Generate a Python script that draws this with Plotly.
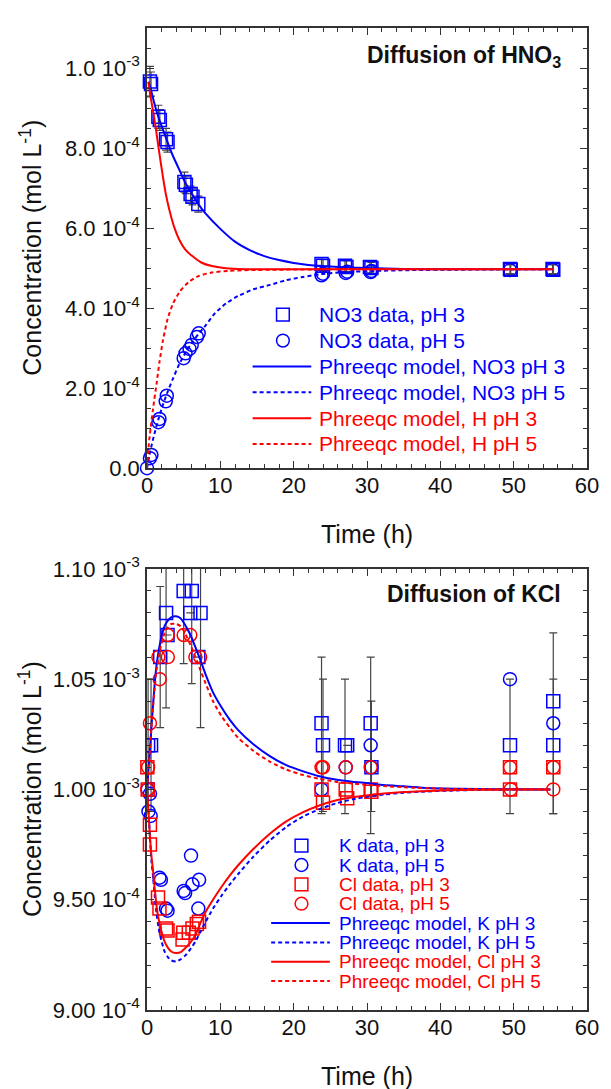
import plotly.graph_objects as go

# ---------------------------------------------------------------
# Diffusion of HNO3 (top panel) -- concentrations in mol/L
# ---------------------------------------------------------------
no3_ph3_t = [0.40, 0.55, 1.55, 1.75, 2.60, 2.80, 5.10, 5.30, 5.95, 6.20, 7.00,
             23.8, 24.0, 27.0, 27.2, 30.4, 30.6, 49.5, 49.6, 55.3, 55.4]
no3_ph3_c = [9.66e-4, 9.60e-4, 8.78e-4, 8.70e-4, 8.22e-4, 8.15e-4, 7.15e-4, 7.08e-4,
             6.85e-4, 6.78e-4, 6.60e-4, 5.10e-4, 5.06e-4, 5.06e-4, 5.03e-4, 5.03e-4,
             5.00e-4, 4.98e-4, 4.96e-4, 4.98e-4, 4.96e-4]
no3_ph3_err = [3.8e-5, 3.0e-5, 2.9e-5, 2.6e-5, 2.7e-5, 2.5e-5, 2.5e-5, 2.2e-5, 2.0e-5,
               2.0e-5, 2.0e-5, 1.6e-5, 1.5e-5, 1.5e-5, 1.5e-5, 1.5e-5, 1.4e-5,
               1.2e-5, 1.2e-5, 1.2e-5, 1.2e-5]

no3_ph5_t = [0.0, 0.40, 0.60, 1.55, 1.70, 2.55, 2.70, 5.00, 5.25, 5.80, 6.10, 6.80,
             7.05, 23.8, 24.0, 27.1, 27.3, 30.5, 30.6, 49.5, 55.3]
no3_ph5_c = [0.0, 0.25e-4, 0.33e-4, 1.15e-4, 1.23e-4, 1.67e-4, 1.81e-4, 2.75e-4,
             2.87e-4, 2.98e-4, 3.08e-4, 3.28e-4, 3.37e-4, 4.82e-4, 4.86e-4, 4.88e-4,
             4.91e-4, 4.90e-4, 4.93e-4, 4.95e-4, 4.96e-4]

# Phreeqc model curves (top panel)
m_no3_ph3_t = [0.2, 0.5, 1.0, 1.6, 2.2, 2.7, 3.5, 4.5, 5.2, 6.2, 7.0, 8.0, 10, 12,
               14, 16, 18, 20, 22, 24, 27, 30, 35, 40, 50, 55.5]
m_no3_ph3_c = [9.66e-4, 9.48e-4, 9.12e-4, 8.75e-4, 8.45e-4, 8.20e-4, 7.82e-4, 7.42e-4,
               7.14e-4, 6.83e-4, 6.60e-4, 6.36e-4, 5.98e-4, 5.66e-4, 5.45e-4, 5.30e-4,
               5.20e-4, 5.13e-4, 5.08e-4, 5.05e-4, 5.02e-4, 5.00e-4, 4.98e-4, 4.97e-4,
               4.97e-4, 4.97e-4]

m_no3_ph5_t = [0, 0.3, 0.6, 1.0, 1.6, 2.2, 2.8, 3.5, 4.4, 5.3, 6.2, 7.0, 8.0, 9.3,
               10.8, 12.4, 14.5, 16.8, 19, 21.3, 23.7, 27, 31, 36, 42, 50, 55.5]
m_no3_ph5_c = [0.0, 0.30e-4, 0.55e-4, 0.85e-4, 1.25e-4, 1.60e-4, 1.90e-4, 2.22e-4,
               2.60e-4, 2.90e-4, 3.15e-4, 3.35e-4, 3.57e-4, 3.88e-4, 4.12e-4, 4.30e-4,
               4.47e-4, 4.58e-4, 4.70e-4, 4.78e-4, 4.85e-4, 4.90e-4, 4.93e-4, 4.95e-4,
               4.96e-4, 4.97e-4, 4.97e-4]

m_h_ph3_t = [0.18, 0.5, 0.84, 1.2, 1.51, 1.85, 2.18, 2.6, 3.07, 3.7, 4.4, 5.2, 6.18,
             7.4, 8.84, 10.5, 12.4, 15, 20, 30, 40, 55.5]
m_h_ph3_c = [9.65e-4, 9.27e-4, 8.91e-4, 8.50e-4, 8.09e-4, 7.67e-4, 7.27e-4, 6.82e-4,
             6.44e-4, 6.03e-4, 5.71e-4, 5.47e-4, 5.30e-4, 5.14e-4, 5.05e-4, 5.00e-4,
             4.98e-4, 4.97e-4, 4.97e-4, 4.97e-4, 4.97e-4, 4.97e-4]

m_h_ph5_t = [0, 0.15, 0.3, 0.5, 0.8, 1.0, 1.29, 1.7, 2.18, 2.8, 3.51, 4.5, 5.73, 7.0,
             8.84, 11, 14, 18, 25, 35, 45, 55.5]
m_h_ph5_c = [0.0, 0.35e-4, 0.70e-4, 1.00e-4, 1.45e-4, 1.72e-4, 2.09e-4, 2.65e-4,
             3.20e-4, 3.72e-4, 4.10e-4, 4.42e-4, 4.66e-4, 4.80e-4, 4.89e-4, 4.93e-4,
             4.95e-4, 4.96e-4, 4.97e-4, 4.97e-4, 4.97e-4, 4.97e-4]

# ---------------------------------------------------------------
# Diffusion of KCl (bottom panel) -- concentrations in mol/L
# ---------------------------------------------------------------
k_ph3_t = [0.15, 0.55, 0.10, 1.80, 2.60, 2.80, 5.00, 6.10, 5.90, 7.30, 7.00,
           23.8, 24.0, 27.0, 27.3, 30.5, 30.6, 49.5, 55.4, 55.4]
k_ph3_c = [1.020e-3, 1.020e-3, 1.000e-3, 1.060e-3, 1.080e-3, 1.070e-3, 1.090e-3,
           1.090e-3, 1.080e-3, 1.080e-3, 1.060e-3, 1.030e-3, 1.020e-3, 1.020e-3,
           1.020e-3, 1.030e-3, 1.010e-3, 1.020e-3, 1.040e-3, 1.020e-3]
k_ph3_err_up = [3.0e-5, 3.0e-5, None, 3.2e-5, 4.3e-5, None, 3.3e-5, 4.2e-5, None,
                5.2e-5, None, 3.0e-5, 3.0e-5, 3.0e-5, None, 3.0e-5, 3.0e-5, 3.0e-5,
                3.1e-5, 3.0e-5]
k_ph3_err_dn = [3.0e-5, 3.0e-5, None, 3.2e-5, 4.3e-5, None, 3.3e-5, 4.2e-5, None,
                5.2e-5, None, 4.1e-5, 3.0e-5, 3.1e-5, None, 5.0e-5, 2.0e-5, 3.1e-5,
                5.1e-5, 3.1e-5]

k_ph5_t = [0.10, 0.40, 0.20, 0.50, 1.70, 1.90, 2.60, 2.80, 5.00, 5.20, 6.00, 6.20,
           7.00, 7.10, 23.8, 27.1, 30.5, 30.6, 49.5, 55.4]
k_ph5_c = [1.000e-3, 0.998e-3, 9.90e-4, 9.88e-4, 9.60e-4, 9.59e-4, 9.46e-4, 9.45e-4,
           9.54e-4, 9.53e-4, 9.70e-4, 9.57e-4, 9.46e-4, 9.59e-4, 1.000e-3, 1.010e-3,
           1.020e-3, 1.010e-3, 1.050e-3, 1.030e-3]

cl_ph3_t = [0.05, 0.10, 0.40, 0.40, 1.50, 1.70, 2.60, 2.80, 4.85, 4.95, 5.70, 6.20,
            6.80, 7.10, 23.8, 24.0, 27.1, 27.3, 30.5, 30.6, 49.5, 49.5, 55.4]
cl_ph3_c = [1.010e-3, 1.000e-3, 9.84e-4, 9.75e-4, 9.51e-4, 9.46e-4, 9.37e-4, 9.36e-4,
            9.32e-4, 9.35e-4, 9.35e-4, 9.37e-4, 9.39e-4, 9.40e-4, 1.000e-3, 9.94e-4,
            1.000e-3, 9.96e-4, 1.000e-3, 9.99e-4, 1.010e-3, 1.000e-3, 1.010e-3]

cl_ph5_t = [0.05, 0.15, 0.40, 1.73, 1.55, 2.84, 2.84, 5.00, 5.90, 6.60, 7.25,
            23.8, 24.0, 27.1, 30.5, 49.5, 49.6, 55.4, 55.4]
cl_ph5_c = [1.000e-3, 1.010e-3, 1.030e-3, 1.050e-3, 1.060e-3, 1.060e-3, 1.070e-3,
            1.070e-3, 1.070e-3, 1.060e-3, 1.060e-3, 1.010e-3, 1.010e-3, 1.010e-3,
            1.010e-3, 1.010e-3, 1.000e-3, 1.010e-3, 1.000e-3]

# Phreeqc model curves (bottom panel), shared time grid
m_kcl_t = [0, 0.2, 0.4, 0.6, 0.84, 1.05, 1.29, 1.6, 1.96, 2.4, 2.84, 3.3, 3.96, 4.6,
           5.3, 6.0, 6.6, 7.3, 8.0, 9.0, 10.2, 11.3, 12.4, 14.5, 16.8, 19, 21.3,
           23.5, 25.7, 28, 30.2, 32.3, 35, 37.5, 42.7, 48, 55]
m_k_ph3 = [100.0, 100.9, 101.8, 102.8, 103.9, 104.8, 105.6, 106.3, 106.9, 107.4,
           107.65, 107.8, 107.85, 107.75, 107.4, 106.95, 106.45, 105.85, 105.2,
           104.4, 103.7, 103.15, 102.7, 102.05, 101.5, 101.1, 100.82, 100.6, 100.45,
           100.35, 100.28, 100.2, 100.14, 100.08, 100.03, 100.01, 100.0]
m_cl_ph5 = [100.0, 100.9, 101.8, 102.8, 103.8, 104.6, 105.4, 106.0, 106.6, 107.1,
            107.35, 107.5, 107.5, 107.4, 107.0, 106.5, 106.0, 105.4, 104.8, 104.0,
            103.3, 102.8, 102.35, 101.75, 101.25, 100.9, 100.65, 100.48, 100.35,
            100.27, 100.2, 100.15, 100.1, 100.06, 100.02, 100.01, 100.0]
m_cl_ph3 = [100.0, 99.0, 97.9, 97.0, 96.27, 95.5, 94.77, 94.1, 93.58, 93.1, 92.83,
            92.65, 92.58, 92.62, 92.83, 93.1, 93.4, 93.95, 94.45, 95.0, 95.6, 96.1,
            96.55, 97.3, 98.0, 98.55, 98.97, 99.27, 99.5, 99.64, 99.74, 99.81,
            99.88, 99.92, 99.97, 99.99, 100.0]
m_k_ph5 = [100.0, 99.0, 97.8, 96.8, 96.0, 95.2, 94.4, 93.7, 93.15, 92.65, 92.4,
           92.25, 92.2, 92.3, 92.5, 92.8, 93.1, 93.55, 94.0, 94.6, 95.2, 95.7,
           96.15, 96.95, 97.7, 98.3, 98.78, 99.1, 99.36, 99.55, 99.68, 99.77, 99.85,
           99.9, 99.96, 99.99, 100.0]
KCL_UNIT = 1e-5  # model values above are in units of 1e-5 mol/L

# tick labels
top_tickvals = [0, 2e-4, 4e-4, 6e-4, 8e-4, 1e-3]
top_ticktext = ["0.0", "2.0 10<sup>-4</sup>", "4.0 10<sup>-4</sup>",
                "6.0 10<sup>-4</sup>", "8.0 10<sup>-4</sup>", "1.0 10<sup>-3</sup>"]
bot_tickvals = [9.0e-4, 9.5e-4, 1.0e-3, 1.05e-3, 1.1e-3]
bot_ticktext = ["9.00 10<sup>-4</sup>", "9.50 10<sup>-4</sup>", "1.00 10<sup>-3</sup>",
                "1.05 10<sup>-3</sup>", "1.10 10<sup>-3</sup>"]

# ---------------------------------------------------------------
# geometry helpers (pixel -> paper)
# ---------------------------------------------------------------
W, H = 611, 1089
L, R = 147, 597
TOP1, BOT1 = 15, 461
TOP2, BOT2 = 563, 1010
PH = BOT2 - TOP1


def px(xp):
    return (xp - L) / (R - L)


def py(yp):
    return (BOT2 - yp) / PH


BLUE = "#0000ff"
RED = "#ff0000"
ERRC = "#444444"
INK = "#111111"
DOT = "4px,3px"
FONT = "Liberation Sans, Arial, Helvetica, sans-serif"

fig = go.Figure()


def markers(t, c, color, symbol, xa, ya, err=None, err_up=None, err_dn=None, clip=False):
    kw = {}
    if err is not None:
        kw["error_y"] = dict(type="data", array=err, color=ERRC, thickness=1.2, width=4)
    elif err_up is not None:
        kw["error_y"] = dict(type="data", symmetric=False, array=err_up,
                             arrayminus=err_dn, color=ERRC, thickness=1.2, width=4)
    fig.add_trace(go.Scatter(
        x=t, y=c, mode="markers", xaxis=xa, yaxis=ya, showlegend=False,
        cliponaxis=clip,
        marker=dict(symbol=symbol, size=13, color=color,
                    line=dict(color=color, width=1.5)), **kw))


def curve(t, c, color, dash, xa, ya):
    fig.add_trace(go.Scatter(
        x=t, y=c, mode="lines", xaxis=xa, yaxis=ya, showlegend=False,
        line=dict(color=color, width=2, dash=dash, shape="spline", smoothing=0.6)))


# top panel
markers(no3_ph3_t, no3_ph3_c, BLUE, "square-open", "x", "y", err=no3_ph3_err)
markers(no3_ph5_t, no3_ph5_c, BLUE, "circle-open", "x", "y")
curve(m_no3_ph3_t, m_no3_ph3_c, BLUE, "solid", "x", "y")
curve(m_no3_ph5_t, m_no3_ph5_c, BLUE, DOT, "x", "y")
curve(m_h_ph3_t, m_h_ph3_c, RED, "solid", "x", "y")
curve(m_h_ph5_t, m_h_ph5_c, RED, DOT, "x", "y")

# bottom panel (error bars are clipped at the frame)
markers(k_ph3_t, k_ph3_c, BLUE, "square-open", "x2", "y2",
        err_up=k_ph3_err_up, err_dn=k_ph3_err_dn, clip=True)
markers(k_ph5_t, k_ph5_c, BLUE, "circle-open", "x2", "y2")
markers(cl_ph3_t, cl_ph3_c, RED, "square-open", "x2", "y2")
markers(cl_ph5_t, cl_ph5_c, RED, "circle-open", "x2", "y2")
curve(m_kcl_t, [v * KCL_UNIT for v in m_k_ph3], BLUE, "solid", "x2", "y2")
curve(m_kcl_t, [v * KCL_UNIT for v in m_k_ph5], BLUE, DOT, "x2", "y2")
curve(m_kcl_t, [v * KCL_UNIT for v in m_cl_ph3], RED, "solid", "x2", "y2")
curve(m_kcl_t, [v * KCL_UNIT for v in m_cl_ph5], RED, DOT, "x2", "y2")

# ---------------------------------------------------------------
# axes
# ---------------------------------------------------------------
axis_common = dict(showline=True, mirror="allticks", linecolor="#333333", linewidth=1.5,
                   ticks="inside", ticklen=7, tickwidth=1.3, tickcolor="#333333",
                   showgrid=False, zeroline=False,
                   tickfont=dict(family=FONT, size=22, color=INK))

xminor = dict(ticks="inside", ticklen=4, tickwidth=1.2, tickcolor="#333333",
              tickvals=list(range(0, 61, 2)))
xcfg = dict(range=[0, 60], tickvals=list(range(0, 61, 10)), tickmode="array",
            minor=xminor, ticklabelstandoff=-3, **axis_common)

fig.update_layout(
    xaxis=dict(domain=[0, 1], anchor="y", **xcfg),
    xaxis2=dict(domain=[0, 1], anchor="y2", **xcfg),
    yaxis=dict(domain=[py(BOT1), py(TOP1)], anchor="x", range=[0, 1.1e-3],
               tickmode="array", tickvals=top_tickvals, ticktext=top_ticktext,
               minor=dict(ticks="inside", ticklen=4, tickwidth=1.2, tickcolor="#333333",
                          tickvals=[i * 5e-5 for i in range(0, 23)]),
               ticklabelstandoff=1, **axis_common),
    yaxis2=dict(domain=[0, py(TOP2)], anchor="x2", range=[8.99999e-4, 1.100001e-3],
                tickmode="array", tickvals=bot_tickvals, ticktext=bot_ticktext,
                minor=dict(ticks="inside", ticklen=4, tickwidth=1.2, tickcolor="#333333",
                           tickvals=[9.0e-4 + i * 1e-5 for i in range(0, 21)]),
                ticklabelstandoff=1, **axis_common),
    width=W, height=H, autosize=False,
    margin=dict(l=L, r=W - R, t=TOP1, b=H - BOT2, pad=0),
    paper_bgcolor="white", plot_bgcolor="white",
    font=dict(family=FONT, color=INK),
    showlegend=False,
)

# axis titles and panel titles
for yc in [(TOP1 + BOT1) / 2, (TOP2 + BOT2) / 2]:
    fig.add_annotation(xref="paper", yref="paper", x=px(28), y=py(yc),
                       text="Concentration (mol L<sup>-1</sup>)", textangle=-90,
                       showarrow=False, xanchor="center", yanchor="middle",
                       font=dict(family=FONT, size=25, color=INK))
for yc in [528, 1077]:
    fig.add_annotation(xref="paper", yref="paper", x=0.5, y=py(yc), text="Time (h)",
                       showarrow=False, xanchor="center", yanchor="middle",
                       font=dict(family=FONT, size=25, color=INK))

fig.add_annotation(xref="paper", yref="paper", x=px(572), y=py(44),
                   text="<b>Diffusion of HNO<sub>3</sub></b>", showarrow=False,
                   xanchor="right", yanchor="middle",
                   font=dict(family=FONT, size=23, color=INK))
fig.add_annotation(xref="paper", yref="paper", x=px(572), y=py(588),
                   text="<b>Diffusion of KCl</b>", showarrow=False,
                   xanchor="right", yanchor="middle",
                   font=dict(family=FONT, size=23, color=INK))


# ---------------------------------------------------------------
# legends
# ---------------------------------------------------------------
def legend(entries, sym_x, line_x0, line_x1, text_x, y0, dy, size):
    for i, (label, color, kind) in enumerate(entries):
        yc = y0 + i * dy
        if kind in ("square", "circle"):
            s = 6.5
            fig.add_shape(type="rect" if kind == "square" else "circle",
                          xref="paper", yref="paper",
                          x0=px(sym_x - s), x1=px(sym_x + s),
                          y0=py(yc + s), y1=py(yc - s),
                          line=dict(color=color, width=1.5),
                          fillcolor="rgba(0,0,0,0)")
        else:
            fig.add_shape(type="line", xref="paper", yref="paper",
                          x0=px(line_x0), x1=px(line_x1), y0=py(yc), y1=py(yc),
                          line=dict(color=color, width=2,
                                    dash="solid" if kind == "solid" else DOT))
        fig.add_annotation(xref="paper", yref="paper", x=px(text_x), y=py(yc),
                           text=label, showarrow=False, xanchor="left",
                           yanchor="middle", borderpad=0,
                           font=dict(family=FONT, size=size, color=color))


legend([("NO3 data, pH 3", BLUE, "square"),
        ("NO3 data, pH 5", BLUE, "circle"),
        ("Phreeqc model, NO3 pH 3", BLUE, "solid"),
        ("Phreeqc model, NO3 pH 5", BLUE, "dot"),
        ("Phreeqc model, H pH 3", RED, "solid"),
        ("Phreeqc model, H pH 5", RED, "dot")],
       sym_x=286, line_x0=255, line_x1=315, text_x=322, y0=305.5, dy=26.2, size=21)

legend([("K data, pH 3", BLUE, "square"),
        ("K data, pH 5", BLUE, "circle"),
        ("Cl data, pH 3", RED, "square"),
        ("Cl data, pH 5", RED, "circle"),
        ("Phreeqc model, K pH 3", BLUE, "solid"),
        ("Phreeqc model, K pH 5", BLUE, "dot"),
        ("Phreeqc model, Cl pH 3", RED, "solid"),
        ("Phreeqc model, Cl pH 5", RED, "dot")],
       sym_x=305, line_x0=274, line_x1=334, text_x=342, y0=843.5, dy=19.6, size=19)

fig.write_html("out.html")
